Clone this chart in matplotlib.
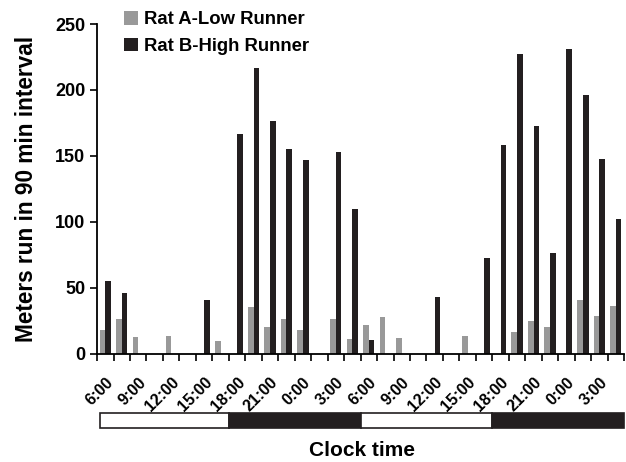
import matplotlib
matplotlib.use("Agg")
import matplotlib.pyplot as plt
import numpy as np
from matplotlib.patches import Rectangle

plt.rcParams['font.family'] = ['Liberation Sans', 'DejaVu Sans']
plt.rcParams['font.weight'] = 'bold'

tick_labels = ["6:00", "9:00", "12:00", "15:00", "18:00", "21:00", "0:00", "3:00",
               "6:00", "9:00", "12:00", "15:00", "18:00", "21:00", "0:00", "3:00"]
rat_a = [18, 26.5, 12.5, 0, 13.5, 0, 0, 10,
         0, 35.5, 20.5, 26.5, 18, 0, 26.5, 11.5,
         22, 28, 12, 0, 0, 0, 13.5, 0,
         0, 16.5, 25, 20.5, 0, 41, 29, 36.5]
rat_b = [55, 46, 0, 0, 0, 0, 41, 0,
         167, 216.5, 176.5, 155, 147, 0, 153, 110,
         10.5, 0, 0, 0, 43, 0, 0, 73,
         158, 227.5, 172.5, 76.5, 231, 196, 148, 102]
light_dark = [(0, 8, "white"), (8, 16, "#231f20"), (16, 24, "white"), (24, 32, "#231f20")]

n = len(rat_a)
x = np.arange(n)

fig = plt.figure(figsize=(6.26, 4.62), dpi=100)
ax = fig.add_axes([0.155, 0.234, 0.842, 0.714])
w = 0.34
ax.bar(x - w / 2, rat_a, width=w, color="#999999", label="Rat A-Low Runner")
ax.bar(x + w / 2, rat_b, width=w, color="#231f20", label="Rat B-High Runner")

ax.set_xlim(-0.5, n - 0.5)
ax.set_ylim(0, 250)
ax.set_yticks(np.arange(0, 251, 50))
ax.set_yticklabels([str(v) for v in range(0, 251, 50)], fontsize=13, fontweight='bold')
ax.set_xticks(np.arange(-0.5, n, 1))
ax.set_xticklabels([])
ax.set_xticks(x[::2], labels=tick_labels, minor=True)
ax.tick_params(axis='x', which='minor', length=0, pad=15)
for lab in ax.get_xticklabels(minor=True):
    lab.set_rotation(45)
    lab.set_ha('right')
    lab.set_va('top')
    lab.set_rotation_mode('anchor')
    lab.set_fontsize(11.5)
    lab.set_fontweight('bold')
ax.tick_params(axis='x', which='major', length=5, width=1.2, direction='out')
ax.tick_params(axis='y', length=5, width=1.2, direction='out')
for s in ['top', 'right']:
    ax.spines[s].set_visible(False)
for s in ['left', 'bottom']:
    ax.spines[s].set_linewidth(1.3)
ax.set_ylabel("Meters run in 90 min interval", fontsize=16.3, fontweight='bold', labelpad=12)

leg = fig.legend(loc='upper left', bbox_to_anchor=(0.172, 1.012), frameon=False,
                 prop={'size': 13.3, 'weight': 'bold'}, handlelength=0.75, handleheight=0.75,
                 handletextpad=0.3, labelspacing=0.5)

# light/dark bar
ax2 = fig.add_axes([0.155, 0.0736, 0.842, 0.0325])
ax2.set_xlim(-0.5, n - 0.5)
ax2.set_ylim(0, 1)
ax2.axis('off')
for (a, b, c) in light_dark:
    off = 0.15 if a == 0 else 0
    ax2.add_patch(Rectangle((a - 0.5 + off, 0), b - a - off, 1, facecolor=c,
                            edgecolor="#231f20", linewidth=1.2, clip_on=False))

fig.text(0.578, 0.004, "Clock time", fontsize=15, fontweight='bold', ha='center', va='bottom')

fig.savefig("out.png", dpi=100)
